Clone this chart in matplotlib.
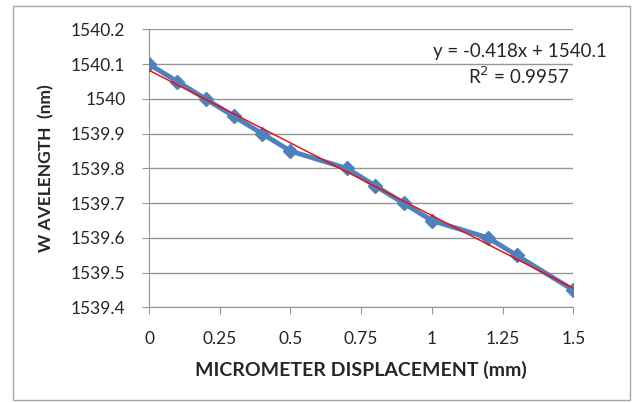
import matplotlib.pyplot as plt
import numpy as np
from matplotlib.patches import Rectangle

plt.rcParams['font.family'] = ['Lato', 'DejaVu Sans']

# micrometer displacement (mm) vs measured wavelength (nm)
displacement = [0, 0.1, 0.2, 0.3, 0.4, 0.5, 0.7, 0.8, 0.9, 1.0, 1.2, 1.3, 1.5]
wavelength = [1540.1, 1540.05, 1540.0, 1539.95, 1539.9, 1539.85, 1539.8,
              1539.75, 1539.7, 1539.65, 1539.6, 1539.55, 1539.45]
xticks = [0, 0.25, 0.5, 0.75, 1, 1.25, 1.5]
xticklabels = ['0', '0.25', '0.5', '0.75', '1', '1.25', '1.5']
yticks = [1539.4, 1539.5, 1539.6, 1539.7, 1539.8, 1539.9, 1540.0, 1540.1, 1540.2]
yticklabels = ['1539.4', '1539.5', '1539.6', '1539.7', '1539.8', '1539.9', '1540', '1540.1', '1540.2']

fig = plt.figure(figsize=(6.37, 4.03), dpi=100)
fig.patches.append(Rectangle((13 / 637, 3 / 403), 617 / 637, 394 / 403, transform=fig.transFigure,
                             fill=False, edgecolor='#a6a6a6', linewidth=1))
ax = fig.add_axes([0.234, 0.237, 0.666, 0.69])

ax.plot(displacement, wavelength, color='#4f81bd', linewidth=3.5, marker='D',
        markersize=7.5, zorder=3)

# linear trendline
slope, icept = np.polyfit(displacement, wavelength, 1)
xs = np.array([0, 1.5])
ax.plot(xs, slope * xs + icept, color='#ff0000', linewidth=1, zorder=4)

ax.set_xlim(0, 1.5)
ax.set_ylim(1539.4, 1540.2)
ax.set_xticks(xticks)
ax.set_xticklabels(xticklabels)
ax.set_yticks(yticks)
ax.set_yticklabels(yticklabels)
ax.grid(axis='y', color='#969696', linewidth=1)
ax.set_axisbelow(True)
for s in ['top', 'right']:
    ax.spines[s].set_visible(False)
for s in ['left', 'bottom']:
    ax.spines[s].set_color('#969696')
ax.tick_params(axis='both', colors='#969696', labelcolor='#262626', labelsize=12.5,
               length=5, direction='out')
ax.tick_params(axis='x', pad=12)
ax.tick_params(axis='y', pad=12)

ax.set_xlabel('MICROMETER DISPLACEMENT (mm)', fontsize=14, fontweight='bold',
              color='#262626', labelpad=10)
ax.set_ylabel('W AVELENGTH  (nm)', fontsize=12.5, fontweight='bold',
              color='#262626', labelpad=12)

fig.text(607 / 637, 1 - 52 / 403, 'y = -0.418x + 1540.1', ha='right', va='center',
         fontsize=13.5, color='#262626')
fig.text(569 / 637, 1 - 76 / 403, 'R$^2$ = 0.9957', ha='right', va='center',
         fontsize=13.5, color='#262626')

fig.savefig('out.png', dpi=100)
